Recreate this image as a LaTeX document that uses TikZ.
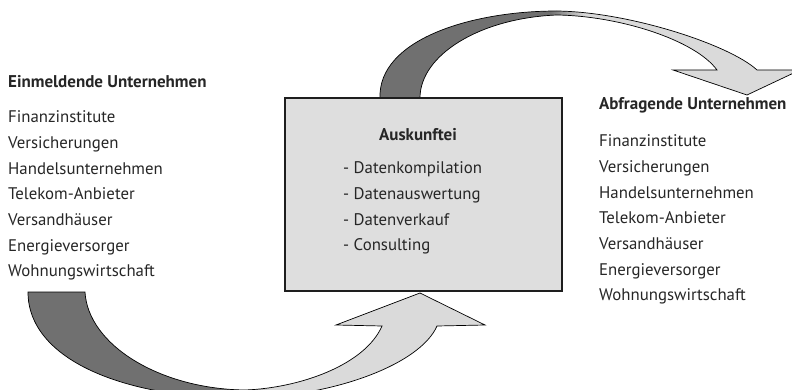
\documentclass[tikz,border=0pt]{standalone}
\usepackage{fontspec}
\setmainfont{PT Sans}
\usetikzlibrary{positioning}

\definecolor{textgray}{HTML}{262626}
\definecolor{arrowdark}{HTML}{707070}
\definecolor{arrowlight}{HTML}{DADADA}
\definecolor{boxfill}{HTML}{DEDEDE}
\definecolor{boxline}{HTML}{1E1E1E}

% dark on the left, light on the right
\pgfdeclarehorizontalshading{topflow}{100bp}{color(0bp)=(arrowdark); color(45.4bp)=(arrowdark); color(49.5bp)=(arrowlight); color(100bp)=(arrowlight)}
\pgfdeclarehorizontalshading{bottomflow}{100bp}{color(0bp)=(arrowdark); color(47.5bp)=(arrowdark); color(51.5bp)=(arrowlight); color(100bp)=(arrowlight)}

\begin{document}
\begin{tikzpicture}[x=1pt,y=-1pt,
  label text/.style={font=\fontsize{16.8}{19}\selectfont,text=textgray,
    inner sep=0pt,anchor=base west},
  head text/.style={label text,font=\fontsize{17}{19}\selectfont\bfseries},
  flow/.style={draw=black,line width=0.7pt,line join=miter}]
  \useasboundingbox (0,0) rectangle (792,390);

  % the two broad arrows
  \begin{scope}
    \clip (0,0) rectangle (792,390);
    \shadedraw[flow,shading=topflow] (380,98) .. controls (378,40) and (470,11) .. (557,11)
      .. controls (630,12) and (730,45) .. (757,70) -- (800,70) -- (747,95)
      -- (673,70) -- (717,70) .. controls (695,40) and (620,16) .. (557,15)
      .. controls (480,18) and (420,55) .. (420,98) -- cycle;
    \shadedraw[flow,shading=bottomflow] (28,292) .. controls (28,360) and (125,398) .. (240,398)
      .. controls (330,398) and (420,365) .. (437,326) -- (485,325) -- (420,293)
      -- (336,325) -- (382,326) .. controls (365,365) and (300,388) .. (245,390)
      .. controls (160,389) and (88,345) .. (85,292) -- cycle;
  \end{scope}

  % Auskunftei
  \node[draw=boxline,fill=boxfill,line width=1.2pt,minimum width=277pt,
    minimum height=193pt,inner sep=0pt] (auskunftei) at (423.5,194.5) {};
  \node[head text,anchor=base] (title) at (418,141) {Auskunftei};
  \foreach \task [count=\i from 0] in {Datenkompilation,Datenauswertung,Datenverkauf,Consulting}
    \node[label text] (task\i) at (343,174+25.6*\i) {- \task};

  % Unternehmen
  \node[head text] (einmelder) at (8,88) {Einmeldende Unternehmen};
  \node[head text] (abfrager) at (599,110) {Abfragende Unternehmen};
  \foreach \firm [count=\i from 0] in {Finanzinstitute,Versicherungen,Handelsunternehmen,
      Telekom-Anbieter,Versandhäuser,Energieversorger,Wohnungswirtschaft} {
    \node[label text] (ein\i) at (8,123+25.6*\i) {\firm};
    \node[label text] (abf\i) at (599,147+25.6*\i) {\firm};
  }
\end{tikzpicture}
\end{document}
